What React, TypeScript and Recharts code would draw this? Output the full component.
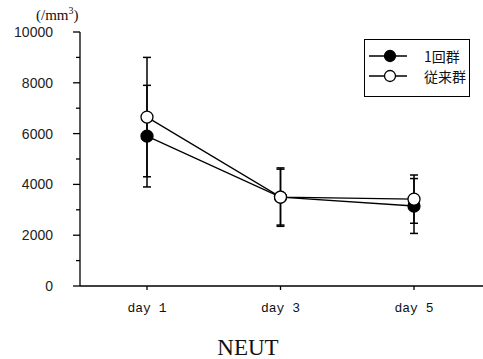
import { LineChart, Line, XAxis, YAxis, ErrorBar, Legend } from "recharts"

const days = ["day 1", "day 3", "day 5"]
const onceGroup = [5900, 3500, 3150]
const onceErr = [2000, 1100, 1080]
const usualGroup = [6650, 3500, 3420]
const usualErr = [2350, 1150, 950]
const yTicks = [0, 1000, 2000, 3000, 4000, 5000, 6000, 7000, 8000, 9000, 10000]

const SERIES = [
  { key: "once", name: "1回群", fill: "#000" },
  { key: "usual", name: "従来群", fill: "#fff" },
]

const data = days.map((day, i) => ({
  day,
  once: onceGroup[i],
  onceErr: onceErr[i],
  usual: usualGroup[i],
  usualErr: usualErr[i],
}))

function YTick({ x, y, payload }: any) {
  const major = payload.value % 2000 === 0
  return (
    <g>
      <line x1={x} x2={x - (major ? 7 : 4)} y1={y} y2={y} stroke="#000" strokeWidth={1.3} />
      {major && (
        <text
          x={x - 27}
          y={y}
          dy={5}
          textAnchor="end"
          fontFamily="Liberation Sans, Arial, sans-serif"
          fontSize={14}
          fill="#222"
        >
          {payload.value}
        </text>
      )}
    </g>
  )
}

function LegendBox() {
  return (
    <div
      style={{
        border: "1px solid #000",
        width: 106,
        height: 58,
        boxSizing: "border-box",
        padding: "6px 0 0 4px",
        background: "#fff",
      }}
    >
      {SERIES.map((s) => (
        <div key={s.key} style={{ display: "flex", alignItems: "center", height: 20 }}>
          <svg width={40} height={14}>
            <line x1={0} x2={38} y1={7} y2={7} stroke="#000" strokeWidth={1.3} />
            <circle cx={21} cy={7} r={5.5} fill={s.fill} stroke="#000" strokeWidth={1.3} />
          </svg>
          <span
            style={{
              marginLeft: 15,
              fontFamily: "Noto Sans CJK JP, sans-serif",
              fontSize: 14,
              color: "#111",
            }}
          >
            {s.name}
          </span>
        </div>
      ))}
    </div>
  )
}

export default function App() {
  return (
    <div style={{ position: "absolute", left: 0, top: 0, width: 483, height: 359, background: "#fff" }}>
      <LineChart width={483} height={359} data={data} margin={{ top: 32, right: 0, left: 0, bottom: 0 }}>
        <XAxis
          dataKey="day"
          height={73}
          padding={{ left: 67, right: 69 }}
          axisLine={{ stroke: "#000", strokeWidth: 1.3 }}
          tickLine={{ stroke: "#000", strokeWidth: 1.3 }}
          tickSize={4}
          tickMargin={13}
          tick={{ fill: "#111", fontSize: 13, fontFamily: "Liberation Mono, DejaVu Sans Mono, monospace" }}
          label={{
            content: () => (
              <text x={248} y={355} textAnchor="middle" fontFamily="Liberation Serif, serif" fontSize={23} fill="#111">
                NEUT
              </text>
            ),
          }}
        />
        <YAxis
          width={80}
          domain={[0, 10000]}
          ticks={yTicks}
          interval={0}
          tickSize={0}
          tickMargin={0}
          tickLine={false}
          axisLine={{ stroke: "#000", strokeWidth: 1.3 }}
          tick={<YTick />}
          label={{
            content: () => (
              <text x={36} y={20} fontFamily="Liberation Serif, serif" fontSize={15} fill="#111">
                (/mm
                <tspan dy={-6} fontSize={10}>3</tspan>
                <tspan dy={6}>)</tspan>
              </text>
            ),
          }}
        />
        <Legend
          layout="horizontal"
          verticalAlign="middle"
          align="center"
          wrapperStyle={{ position: "absolute", left: 364, top: 39, width: 106, height: 58 }}
          content={() => <LegendBox />}
        />
        {SERIES.map((s) => (
          <Line
            key={s.key}
            dataKey={s.key}
            name={s.name}
            stroke="#000"
            strokeWidth={1.3}
            dot={{ r: 6, fill: s.fill, stroke: "#000", strokeWidth: 1.3 }}
            isAnimationActive={false}
          >
            <ErrorBar dataKey={s.key + "Err"} width={4} stroke="#000" strokeWidth={1.5} direction="y" />
          </Line>
        ))}
      </LineChart>
    </div>
  )
}
